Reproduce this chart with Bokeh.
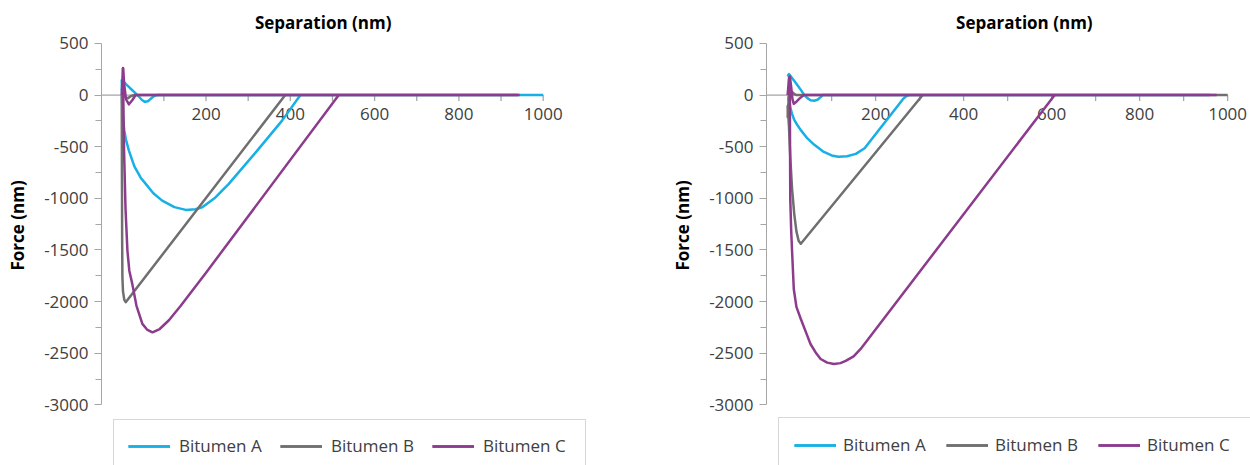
from bokeh.plotting import figure
from bokeh.models import Range1d, FixedTicker, Legend, LegendItem, Title
from bokeh.layouts import row
from bokeh.core.properties import value
from bokeh.embed import file_html
from bokeh.resources import INLINE

# ---------------- data ----------------
series_names = ["Bitumen A", "Bitumen B", "Bitumen C"]
colors = ["#17b0e6", "#6f6f6f", "#8d3b8c"]

# Left chart
l_a_app_x = [0, 5, 10, 20, 30, 40, 48, 55, 62, 70, 78, 85, 1000]
l_a_app_y = [150, 128, 106, 66, 28, -12, -48, -66, -60, -32, -8, 0, 0]
l_a_ret_x = [0, 1, 3, 6, 10, 17, 30, 45, 57, 75, 96, 125, 152, 175, 191, 220, 254, 318, 380, 424]
l_a_ret_y = [150, -80, -220, -340, -430, -538, -690, -800, -860, -950, -1022, -1085, -1112, -1105, -1087, -1000, -860, -555, -250, 0]

l_b_app_x = [0, 3, 6, 10, 15, 22, 30, 940]
l_b_app_y = [60, 30, 0, -25, -30, -10, 0, 0]
l_b_ret_x = [0, 0.5, 1, 1.6, 3, 6, 9.5, 388]
l_b_ret_y = [0, -800, -1400, -1764, -1900, -1980, -2006, 0]

l_c_app_x = [0, 3, 6, 10, 17, 25, 33, 944]
l_c_app_y = [0, 262, 100, -40, -90, -50, 0, 0]
l_c_ret_x = [3, 4, 5.5, 9, 13.5, 18, 25, 35, 49, 60, 73, 90, 112, 140, 200, 515]
l_c_ret_y = [262, -100, -538, -1100, -1506, -1700, -1828, -2040, -2215, -2270, -2297, -2265, -2180, -2040, -1720, 0]

# Right chart
r_a_app_x = [0, 3, 10, 20, 30, 37, 45, 52, 60, 68, 75, 80, 960]
r_a_app_y = [180, 203, 165, 110, 50, 5, -30, -50, -55, -45, -20, 0, 0]
r_a_ret_x = [3, 4, 6, 10, 15, 22, 30, 45, 60, 80, 100, 115, 135, 155, 175, 262, 270, 276]
r_a_ret_y = [203, -50, -120, -180, -240, -290, -340, -420, -480, -545, -585, -597, -593, -570, -515, -40, -10, 0]

r_b_app_x = [0, 1, 3, 6, 10, 15, 20, 1000]
r_b_app_y = [-220, -120, -20, 20, 30, 10, 0, 0]
r_b_ret_x = [0, 3, 6, 10, 15, 20, 25, 30, 307]
r_b_ret_y = [-100, -300, -600, -900, -1150, -1320, -1410, -1440, 0]

r_c_app_x = [0, 3, 5, 8, 11, 14, 20, 28, 37, 975]
r_c_app_y = [0, 150, 180, 80, -40, -85, -65, -30, 0, 0]
r_c_ret_x = [5, 5.5, 6, 8, 10, 14, 20, 30, 42, 52, 65, 75, 90, 105, 120, 132, 150, 166, 607]
r_c_ret_y = [180, -500, -1000, -1300, -1500, -1877, -2050, -2168, -2300, -2410, -2500, -2555, -2590, -2603, -2595, -2574, -2530, -2458, 0]

x_major_ticks = [200, 400, 600, 800, 1000]
x_tick_labels = ["200", "400", "600", "800", "1000"]
x_minor_ticks = [0, 100, 200, 300, 400, 500, 600, 700, 800, 900, 1000]
y_ticks = [-3000, -2500, -2000, -1500, -1000, -500, 0, 500]
y_tick_labels = ["-3000", "-2500", "-2000", "-1500", "-1000", "-500", "0", "500"]
y_minor_ticks = [-2750, -2250, -1750, -1250, -750, -250, 250]

x_title = "Separation (nm)"
y_title = "Force (nm)"

FONT = "Open Sans"
AXIS_COL = "#a6a6a6"
LABEL_COL = "#404040"

X_MIN = -48
Y_RANGE = (-3586, 915)
H = 465


def make_chart(data, width, border_left, x_max, title_x, legend_x, spacing, standoff, pad):
    p = figure(width=width, height=H, x_range=Range1d(X_MIN, x_max), y_range=Range1d(*Y_RANGE),
               x_axis_location=None, toolbar_location=None, output_backend="svg",
               min_border_left=border_left, min_border_right=0, min_border_top=0,
               min_border_bottom=0)
    p.grid.grid_line_color = None
    p.outline_line_color = None
    p.background_fill_color = "white"

    yax = p.yaxis[0]
    yax.ticker = FixedTicker(ticks=y_ticks, minor_ticks=y_minor_ticks)
    yax.bounds = (y_ticks[0], y_ticks[-1])
    yax.major_label_overrides = {t: s for t, s in zip(y_ticks, y_tick_labels)}
    yax.axis_line_color = AXIS_COL
    yax.major_tick_line_color = AXIS_COL
    yax.minor_tick_line_color = AXIS_COL
    yax.major_tick_in = 0
    yax.major_tick_out = 7
    yax.minor_tick_in = 0
    yax.minor_tick_out = 6
    yax.major_label_standoff = 6
    yax.major_label_text_font = FONT
    yax.major_label_text_font_size = "17px"
    yax.major_label_text_color = LABEL_COL
    # a blank, tiny axis label only to leave a gap before the axis title
    yax.axis_label = " "
    yax.axis_label_text_font_size = "1px"
    yax.axis_label_standoff = 6

    # vertical-axis title, centred on the -3000..500 span of the axis
    p.add_layout(Title(text=y_title, align="left", offset=195, text_font=FONT,
                       text_font_size="17px", text_font_style="bold", text_color="black",
                       standoff=6), "left")

    # horizontal axis at y = 0
    p.segment(x0=[X_MIN], y0=[0], x1=[x_major_ticks[-1]], y1=[0], line_color=AXIS_COL, line_width=1.3)
    p.segment(x0=x_minor_ticks, y0=[0] * len(x_minor_ticks), x1=x_minor_ticks,
              y1=[-58] * len(x_minor_ticks), line_color=AXIS_COL, line_width=1.3)
    p.text(x=x_major_ticks, y=[0] * len(x_major_ticks), text=x_tick_labels, text_align="center",
           text_baseline="middle", y_offset=19, text_font=value(FONT), text_font_size="17px",
           text_color=LABEL_COL)
    p.text(x=[title_x], y=[700], text=[x_title], text_align="center", text_baseline="middle",
           text_font=value(FONT), text_font_size="17px", text_font_style="bold", text_color="black")

    items = []
    for (app_x, app_y, ret_x, ret_y), name, col in zip(data, series_names, colors):
        r1 = p.line(app_x, app_y, line_color=col, line_width=2.5, line_join="round")
        r2 = p.line(ret_x, ret_y, line_color=col, line_width=2.5, line_join="round")
        items.append(LegendItem(label=name, renderers=[r1, r2]))

    legend = Legend(items=items, orientation="horizontal", location=(legend_x, -7), padding=pad,
                    spacing=spacing, label_standoff=standoff, glyph_width=42, glyph_height=20,
                    label_height=20, label_width=88, label_text_font=FONT, label_text_font_size="17px",
                    label_text_color=LABEL_COL, border_line_color="#b0b0b0", border_line_width=1,
                    background_fill_color="white", background_fill_alpha=1, margin=0)
    p.add_layout(legend)
    return p


left_data = [(l_a_app_x, l_a_app_y, l_a_ret_x, l_a_ret_y),
             (l_b_app_x, l_b_app_y, l_b_ret_x, l_b_ret_y),
             (l_c_app_x, l_c_app_y, l_c_ret_x, l_c_ret_y)]
right_data = [(r_a_app_x, r_a_app_y, r_a_ret_x, r_a_ret_y),
              (r_b_app_x, r_b_app_y, r_b_ret_x, r_b_ret_y),
              (r_c_app_x, r_c_app_y, r_c_ret_x, r_c_ret_y)]

p1 = make_chart(left_data, 600, 101, 1136, 478, 12, 13, 9, 14)
p2 = make_chart(right_data, 650, 166, 1052, 538, 12, 15, 7, 15)

layout = row(p1, p2)
open("out.html", "w").write(file_html(layout, INLINE))
